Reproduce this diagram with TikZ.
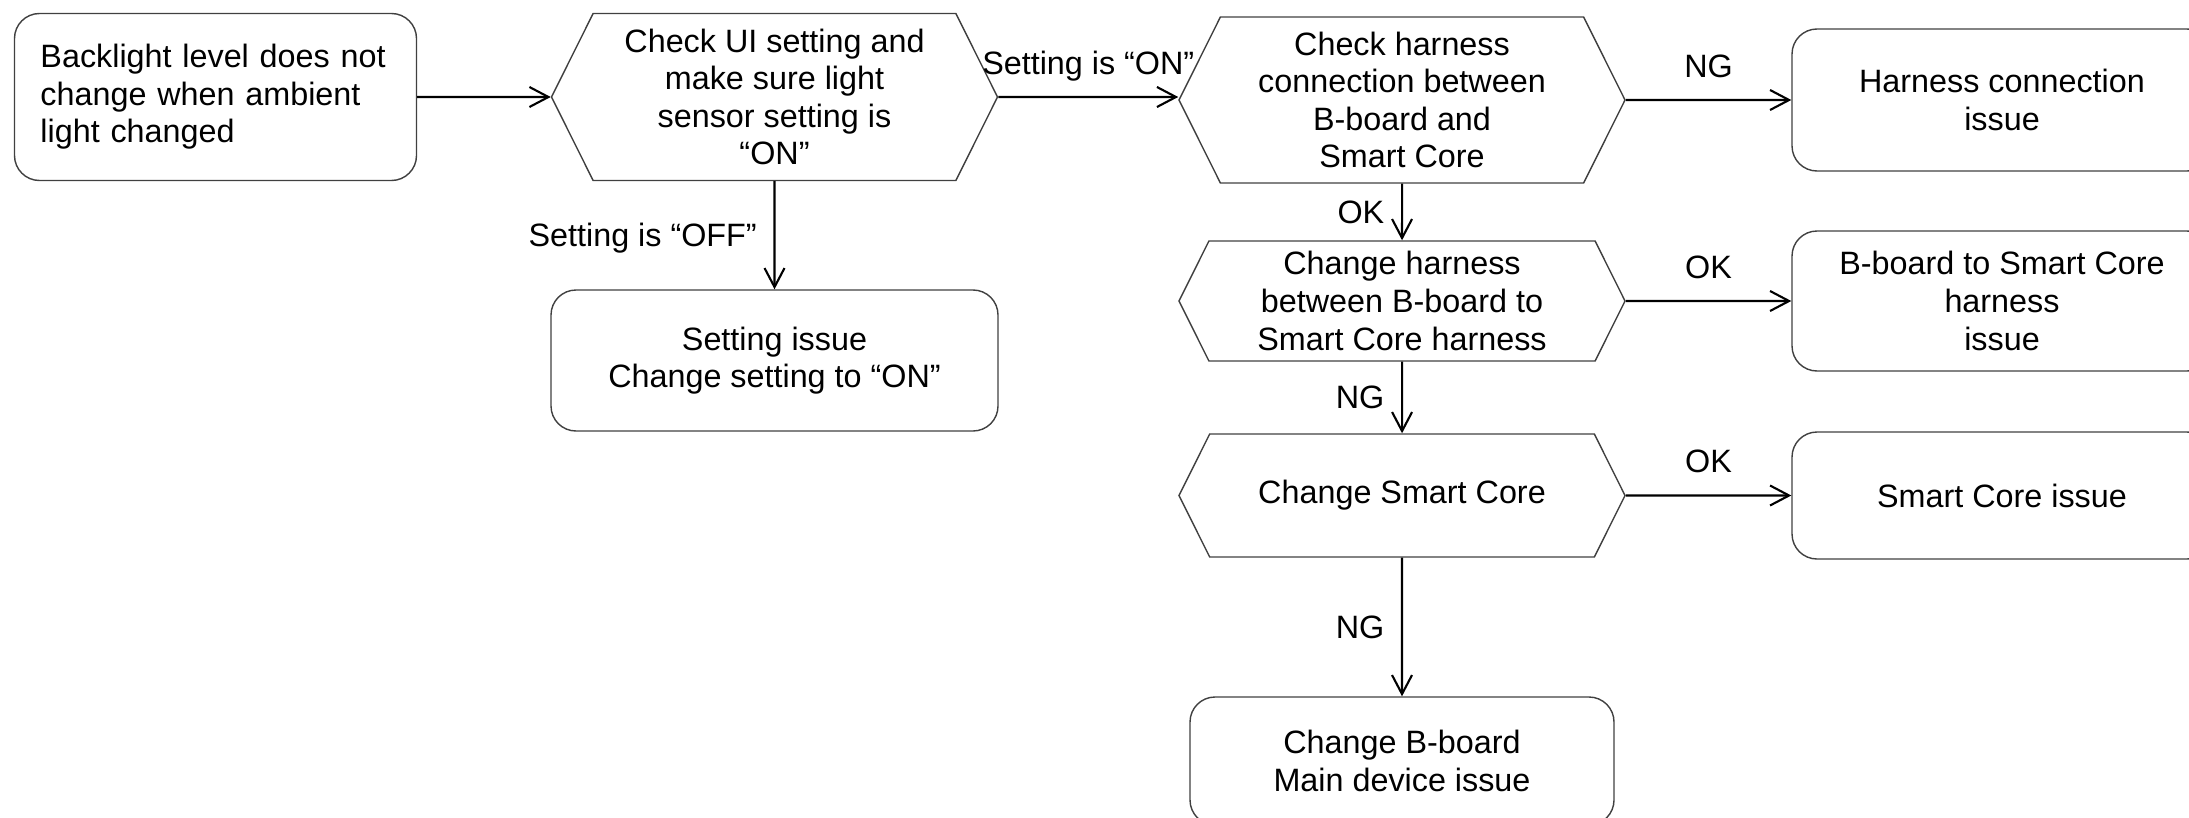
\documentclass[tikz,border=0pt]{standalone}
\usepackage{fontspec}
\setmainfont{Liberation Sans}
\usetikzlibrary{shapes.symbols,arrows.meta}

\begin{document}
\begin{tikzpicture}[
    font=\fontsize{9.2}{10.7}\selectfont,
    roundbox/.style={draw=black!75,line width=0.4pt,rounded corners=0.25cm,align=center,inner sep=0pt},
    hexbox/.style={draw=black!75,line width=0.4pt,shape=signal,signal to=east and west,signal pointer angle=127,align=center,inner sep=0pt},
    flow/.style={line width=0.6pt,-{Straight Barb[length=1.9mm,width=2mm]}},
    tag/.style={text depth=0pt}
]
    \useasboundingbox (0,0) rectangle (21.89,-8.17);

    \node[roundbox,minimum width=4.02cm,minimum height=1.67cm,align=left,text width=3.5cm] (S) at (2.155,-0.97) {Backlight level does not\\change when ambient\\light changed};
    \node[hexbox,minimum width=4.46cm,minimum height=1.67cm] (U) at (7.745,-0.97) {Check UI setting and\\make sure light\\sensor setting is\\“ON”};
    \node[roundbox,minimum width=4.47cm,minimum height=1.41cm] (I) at (7.745,-3.605) {Setting issue\\Change setting to “ON”};
    \node[hexbox,minimum width=4.46cm,minimum height=1.66cm] (H) at (14.02,-1.0) {Check harness\\connection between\\B-board and\\Smart Core};
    \node[roundbox,minimum width=4.2cm,minimum height=1.42cm] (J) at (20.02,-1.0) {Harness connection\\issue};
    \node[hexbox,minimum width=4.46cm,minimum height=1.2cm] (C) at (14.02,-3.01) {Change harness\\between B-board to\\Smart Core harness};
    \node[roundbox,minimum width=4.2cm,minimum height=1.4cm] (K) at (20.02,-3.01) {B-board to Smart Core\\harness\\issue};
    \node[hexbox,minimum width=4.46cm,minimum height=1.23cm] (M) at (14.02,-4.955) {Change Smart Core};
    \node[roundbox,minimum width=4.2cm,minimum height=1.27cm] (N) at (20.02,-4.955) {Smart Core issue};
    \node[roundbox,minimum width=4.24cm,minimum height=1.28cm] (B) at (14.02,-7.61) {Change B-board\\Main device issue};

    \draw[flow] (S) -- (U);
    \draw[flow] (U) -- node[tag,above=1mm] (l1) {Setting is “ON”} (U.east -| H.west);
    \draw[flow] (U) -- node[tag,left=0.5mm] (l2) {Setting is “OFF”} (I);
    \draw[flow] (H) -- node[tag,above=1mm] (l3) {NG} (J);
    \draw[flow] (H) -- node[tag,left=0.5mm] (l4) {OK} (C);
    \draw[flow] (C) -- node[tag,above=1mm] (l5) {OK} (K);
    \draw[flow] (C) -- node[tag,left=0.5mm] (l6) {NG} (M);
    \draw[flow] (M) -- node[tag,above=1mm] (l7) {OK} (N);
    \draw[flow] (M) -- node[tag,left=0.5mm] (l8) {NG} (B);
\end{tikzpicture}
\end{document}
